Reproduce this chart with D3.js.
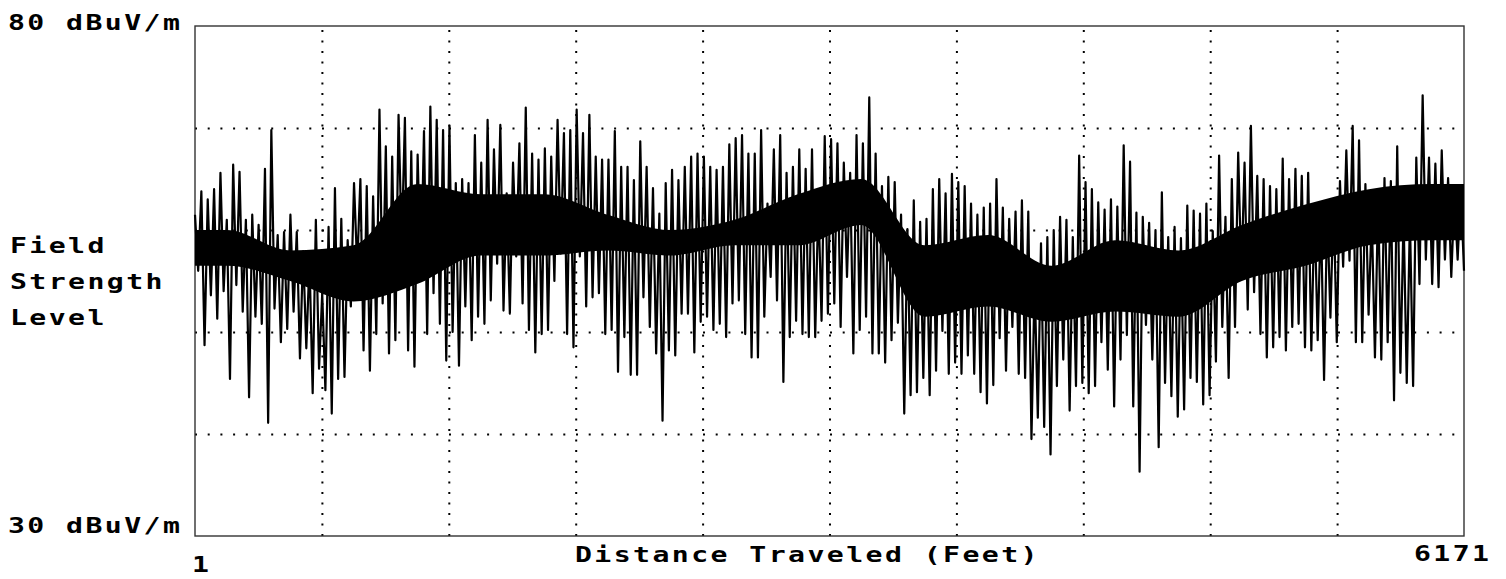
<!DOCTYPE html>
<html><head><meta charset="utf-8">
<script src="https://cdn.jsdelivr.net/npm/d3@7"></script>
<style>
html,body{margin:0;padding:0;background:#fff;}
svg{display:block;}
text{font-family:"DejaVu Sans Mono","Liberation Mono",monospace;font-weight:bold;fill:#000;}
</style>
</head><body>
<svg id="chart" width="1506" height="579"></svg>
<script>
const yDomain = [30, 80];
const xDomain = [1, 6171];
const yGridValues = [40, 50, 60, 70];
const xGridCount = 10;
const yEndLabels = ["30 dBuV/m", "80 dBuV/m"];
const xEndLabels = ["1", "6171"];
const yTitle = ["Field", "Strength", "Level"];
const xTitle = "Distance Traveled (Feet)";

// upper excursion of the trace per sample slot (dBuV/m)
const fieldHigh = [
 61.5,63.8,63,64,65.6,61,66.4,65.7,61,61.5,60.5,66,69.8,59.5,59.8,61.5,59.8,57.9,57,61,
 53.8,60.3,64.1,61.1,59,64.6,65,64.3,63.3,71.8,68.2,67.2,71.3,71,67.7,67.4,69.7,72.1,70.8,69.8,
 70.2,64.6,65,64.6,69.3,66.6,70.8,67.9,70.3,63.6,66.6,68.5,72,67.5,66.9,68,67.2,70.8,69.5,69.8,
 71.8,69.5,71.3,67.2,66.9,66.9,69.7,66.2,66.2,64.9,68.7,66.2,64.1,61.6,64.6,65.9,64.9,66.2,67.2,67.5,
 67.2,66.2,65.9,66.2,68.4,69,69.3,67.5,67.5,69.8,62.6,67.9,69.3,65.6,66.2,67.9,66,67.9,62.9,69.2,
 68.9,68.5,66.6,65.6,69.3,68.5,73,67.5,64.3,65.2,64.7,61.5,60.1,62.9,60.8,61.1,64,65,63.6,65.5,
 64.7,64.3,62.6,61.5,62.2,62.6,65,62.2,61.1,61.8,62.9,61.8,55.1,58.7,59.3,60,61.3,61,59.3,67.3,
 64.7,64,62.7,62,63,62.3,68.3,66.7,61.7,61.3,60.7,60,63.7,59.3,60.3,59.2,62.4,61.9,61.6,62.6,
 59.9,67.3,61.3,65,67.6,66.6,70.2,65.3,65,64.3,64,67,65,66,65.3,65.6,62.3,61.8,62.1,63,
 64.8,67.8,70.2,68.8,64.5,61.4,63.1,65.1,64.8,68.2,61.4,61.1,67.1,73.2,67.1,66.5,67.8,65.1,63.4,64
];
// lower excursion of the trace per sample slot (dBuV/m)
const fieldLow = [
 56,48.7,53.6,51.3,54,45.4,54.6,52,43.6,51.5,50.8,41.1,52.3,49,50.3,52,47.4,48.4,44,46.4,
 44.3,42,45.4,45.6,52.5,56.4,48.2,46.2,49.8,52.8,47.9,49.2,58.4,48.2,46.6,55,49.8,53.8,50.8,47.2,
 50,46.7,52.5,49.2,51.5,50.8,53.1,56.7,52.1,51.8,57.4,52.8,50.2,48,49.8,50.2,55,57.7,49.8,48.5,
 57.4,52.5,53.4,53.8,49.8,50.2,46.1,49.5,45.8,45.8,53.4,50.5,47.9,41.3,48.2,47.7,51.8,51.8,48,51,
 51.5,50.2,50.8,49.5,52.8,53.1,49.8,47.5,47.5,51.5,55.4,53.1,45.1,49.5,51.1,49.8,49.5,49.5,51.1,51.8,
 52.8,50.5,55.4,47.9,50.2,51.5,47.9,47.9,47,49.2,50.9,42,43.8,44.1,45.5,43.8,46.2,50.1,45.9,47,
 45.9,47.7,45.9,44.1,43,44.8,49.4,46.2,50.5,45.9,45.5,39.5,41.6,40.7,38,44.7,47.3,42.3,44.7,45,
 44,44.7,49,46.3,42.7,47.3,49.7,42.7,36.3,50.7,47.3,38.7,45,43.7,41.7,42.4,45.5,45.1,42.9,43.8,
 47.1,50.5,45.5,50.5,55.5,52.2,53.9,49.8,47.5,48.5,49.5,48.2,50.5,50.8,48.5,48.2,49.2,45.3,51.4,49,
 56.4,57,49,49,51.7,47.5,47.3,49,43.3,46,45,44.7,54.7,57.1,54.7,54.4,57.1,55.4,57.1,56
];
// solid dense core of the trace, two readings per grid division (dBuV/m)
const coreTop = [60,58, 58.5,64.5, 63.5,63.5, 61.5,60, 61,63.5, 65,58.5, 59.5,56.5, 59,58, 60.5,62.5, 64,64.5];
const coreBottom = [56.5,55, 53,54.7, 57.5,57.5, 58,57.5, 58.5,58.5, 60.5,51.5, 52.5,51, 52,51.5, 55,56.5, 58.5,59];

const svg = d3.select("#chart");
const plot = {left: 195, right: 1464, top: 26, bottom: 536};
const x = d3.scaleLinear().domain(xDomain).range([plot.left, plot.right]);
const y = d3.scaleLinear().domain(yDomain).range([plot.bottom, plot.top]);

svg.append("rect").attr("width",1506).attr("height",579).attr("fill","#fff");

// horizontal dotted grid
const yGrid = svg.append("g").attr("transform", `translate(${plot.left},0)`)
  .call(d3.axisLeft(y).tickValues(yGridValues).tickSize(-(plot.right-plot.left)).tickFormat(""));
yGrid.select(".domain").remove();
yGrid.selectAll("line").attr("stroke","#000").attr("stroke-width",2)
  .attr("stroke-dasharray","2,10.7");

// vertical dotted grid
const xGridValues = d3.range(1, xGridCount).map(k => xDomain[0] + k*(xDomain[1]-xDomain[0])/xGridCount);
const xGrid = svg.append("g").attr("transform", `translate(0,${plot.bottom})`)
  .call(d3.axisBottom(x).tickValues(xGridValues).tickSize(-(plot.bottom-plot.top)).tickFormat(""));
xGrid.select(".domain").remove();
xGrid.selectAll("line").attr("stroke","#000").attr("stroke-width",2)
  .attr("stroke-dasharray","2,8.5");

// frame
svg.append("rect").attr("x",plot.left).attr("y",plot.top)
  .attr("width",plot.right-plot.left).attr("height",plot.bottom-plot.top)
  .attr("fill","none").attr("stroke","#333").attr("stroke-width",1.4);

// dense core band
const coreStep = (xDomain[1]-xDomain[0])/coreTop.length;
const core = coreTop.map((t,i) => ({d: xDomain[0] + (i+0.5)*coreStep, t, b: coreBottom[i]}));
const coreFull = [{d: xDomain[0], t: coreTop[0], b: coreBottom[0]}, ...core,
  {d: xDomain[1], t: coreTop[coreTop.length-1], b: coreBottom[coreBottom.length-1]}];
svg.append("path").datum(coreFull)
  .attr("d", d3.area().x(p => x(p.d)).y0(p => y(p.b)).y1(p => y(p.t)).curve(d3.curveMonotoneX))
  .attr("fill","#000");

// trace
const samples = [];
fieldHigh.forEach((h,i) => { samples.push(h); samples.push(fieldLow[i]); });
const step = (xDomain[1]-xDomain[0])/(samples.length-1);
const pts = samples.map((v,k) => ({d: xDomain[0] + k*step, v}));
const line = d3.line().x(p => x(p.d)).y(p => y(p.v));
svg.append("path").datum(pts).attr("d", line)
  .attr("fill","none").attr("stroke","#000").attr("stroke-width",2.2)
  .attr("stroke-linejoin","round");

// labels (wide bitmap-like lettering)
const fs = 22, sx = 1.28, ls = 1.9;
function label(t, xx, yy){
  svg.append("g").attr("transform", `translate(${xx},${yy}) scale(${sx},1)`)
    .append("text").attr("x",0).attr("y",0).attr("font-size",fs)
    .attr("letter-spacing",ls).text(t);
}
label(yEndLabels[1], 8, y(80)+4);
label(yEndLabels[0], 8, y(30)-3);
yTitle.forEach((t,i) => label(t, 10, 253 + i*36));
label(xEndLabels[0], x(1)-3, 572);
label(xEndLabels[1], x(6171)-50, 561);
label(xTitle, 575, 562);
</script>
</body></html>
